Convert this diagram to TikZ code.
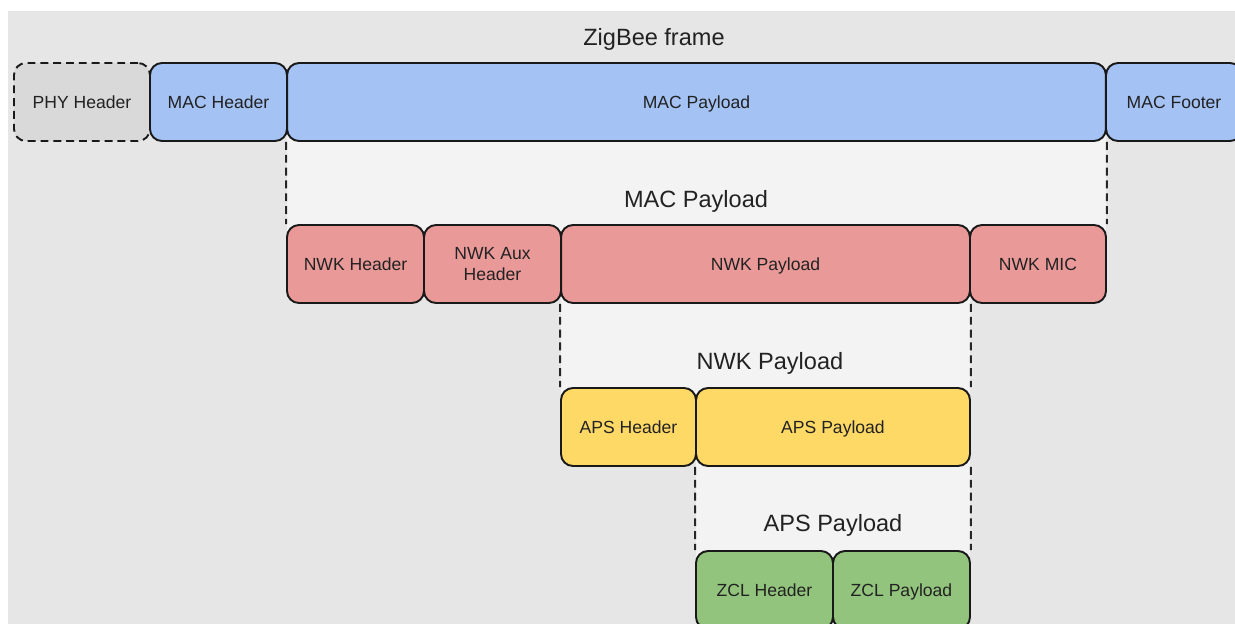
\documentclass[tikz,border=0pt]{standalone}
\usepackage{fontspec}
\setmainfont{Liberation Sans}
\usetikzlibrary{positioning}

\definecolor{BgGray}{HTML}{E6E6E6}
\definecolor{LightGray}{HTML}{F3F3F3}
\definecolor{PhyGray}{HTML}{D9D9D9}
\definecolor{MacBlue}{HTML}{A4C2F4}
\definecolor{NwkRed}{HTML}{EA9999}
\definecolor{ApsYellow}{HTML}{FFD966}
\definecolor{ZclGreen}{HTML}{93C47D}
\definecolor{TextDark}{HTML}{222222}

\tikzset{
  field/.style={draw=black!90, line width=1.1pt, rounded corners=6.8pt,
    minimum height=1.56cm, inner sep=0pt, align=center,
    text height=1.9ex, text depth=0.45ex,
    text=TextDark, font=\fontsize{10}{11.5}\selectfont},
  layertitle/.style={text=TextDark, text height=1.6ex, text depth=0.45ex,
    font=\fontsize{13.4}{15}\selectfont},
  split/.style={draw=black!85, line width=1.1pt, dash pattern=on 4.5pt off 2.8pt},
}

\begin{document}
\begin{tikzpicture}[x=0.02cm, y=-0.02cm]
			\useasboundingbox (0,0) rectangle (1235,623);
			\clip (0,0) rectangle (1235,623);
			\fill [white] (0,0) rectangle (1235,623);
			\fill [BgGray] (8,11) rectangle (1240,630);
			% lighter bands between the layers
			\fill [LightGray] (287,102) rectangle (1106,264);
			\fill [LightGray] (561,264) rectangle (970,427);
			\fill [LightGray] (696,427) rectangle (970,590);
			% titles
			\node [layertitle] (frametitle) at (654,40.5) {ZigBee frame};
			\node [layertitle] (mactitle) at (696,202.5) {MAC Payload};
			\node [layertitle] (nwktitle) at (770,364.5) {NWK Payload};
			\node [layertitle] (apstitle) at (833,526.5) {APS Payload};
			% MAC layer
			\node [field, fill=PhyGray, dashed, dash pattern=on 4.5pt off 2.8pt, minimum width=2.72cm] (phyhdr) at (82,102) {PHY Header};
			\node [field, fill=MacBlue, minimum width=2.74cm] (machdr) at (218.5,102) {MAC Header};
			\node [field, fill=MacBlue, minimum width=16.38cm] (macpay) at (696.5,102) {MAC Payload};
			\node [field, fill=MacBlue, minimum width=2.72cm] (macftr) at (1174,102) {MAC Footer};
			% NWK layer
			\node [field, fill=NwkRed, minimum width=2.74cm] (nwkhdr) at (355.5,264) {NWK Header};
			\node [field, fill=NwkRed, minimum width=2.74cm, text height=, text depth=] (nwkaux) at (492.5,264) {NWK Aux\\Header};
			\node [field, fill=NwkRed, minimum width=8.18cm] (nwkpay) at (765.5,264) {NWK Payload};
			\node [field, fill=NwkRed, minimum width=2.72cm] (nwkmic) at (1038,264) {NWK MIC};
			% APS layer
			\node [field, fill=ApsYellow, minimum width=2.70cm] (apshdr) at (628.5,427) {APS Header};
			\node [field, fill=ApsYellow, minimum width=5.48cm] (apspay) at (833,427) {APS Payload};
			% ZCL layer
			\node [field, fill=ZclGreen, minimum width=2.74cm] (zclhdr) at (764.5,590) {ZCL Header};
			\node [field, fill=ZclGreen, minimum width=2.74cm] (zclpay) at (901.5,590) {ZCL Payload};
			% payload expansion lines
			\draw [split] (macpay.south west) -- (nwkhdr.north west);
			\draw [split] (macpay.south east) -- (nwkmic.north east);
			\draw [split] (nwkpay.south west) -- (apshdr.north west);
			\draw [split] (nwkpay.south east) -- (apspay.north east);
			\draw [split] (apspay.south west) -- (zclhdr.north west);
			\draw [split] (apspay.south east) -- (zclpay.north east);
		\end{tikzpicture}
\end{document}
